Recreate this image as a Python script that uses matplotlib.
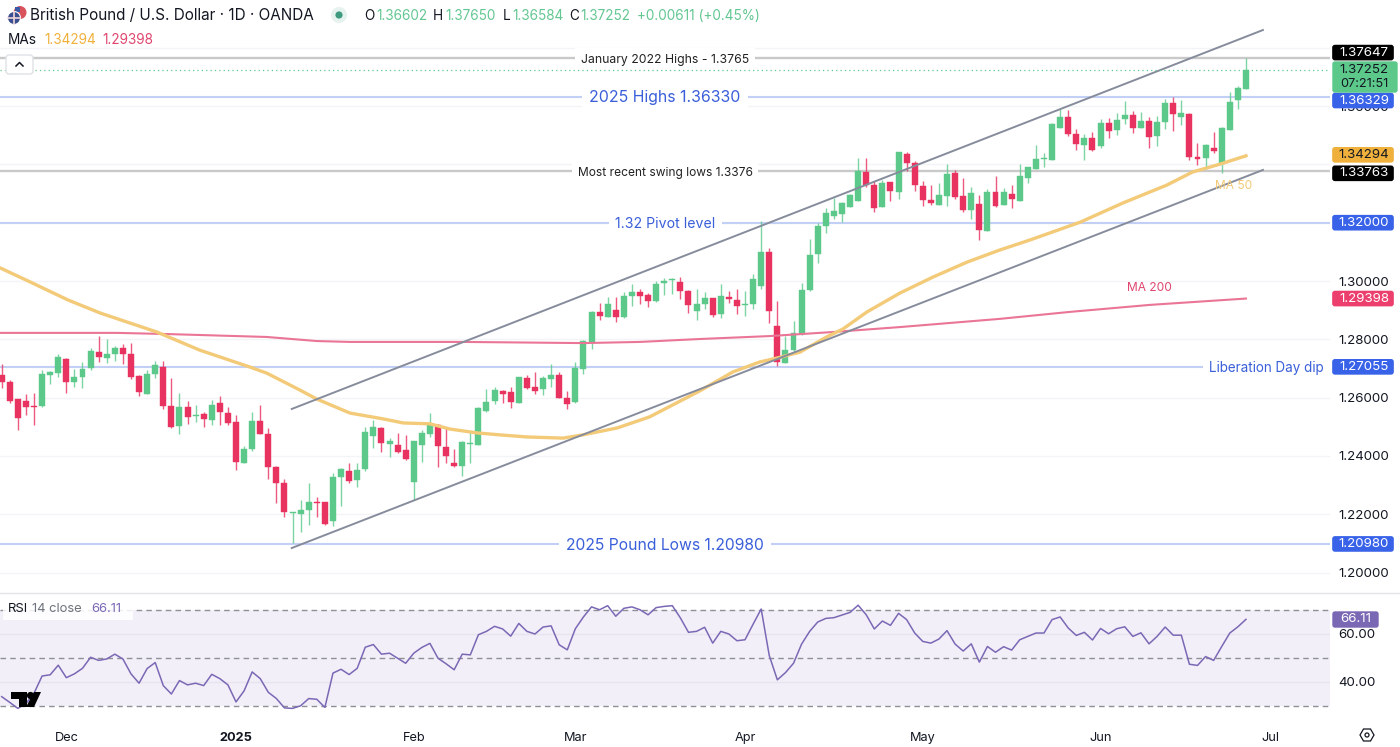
import matplotlib
matplotlib.use('Agg')
import matplotlib.pyplot as plt
from matplotlib.patches import Circle, FancyBboxPatch, Polygon, Rectangle

plt.rcParams['font.family'] = ['Inter', 'DejaVu Sans']

# daily candles
opens = [1.2678, 1.2655, 1.2594, 1.2590, 1.2571, 1.2570, 1.2677, 1.2685, 1.2731, 1.2652, 1.2671, 1.2702, 1.2758, 1.2735, 1.2750, 1.2769,
         1.2751, 1.2675, 1.2614, 1.2681, 1.2706, 1.2572, 1.2503, 1.2567, 1.2538, 1.2544, 1.2524, 1.2580, 1.2547, 1.2515, 1.2376, 1.2424,
         1.2520, 1.2475, 1.2362, 1.2307, 1.2205, 1.2200, 1.2213, 1.2242, 1.2242, 1.2177, 1.2327, 1.2347, 1.2319, 1.2355, 1.2469, 1.2494,
         1.2441, 1.2437, 1.2419, 1.2311, 1.2437, 1.2475, 1.2507, 1.2432, 1.2374, 1.2366, 1.2442, 1.2439, 1.2555, 1.2588, 1.2624, 1.2618,
         1.2581, 1.2668, 1.2636, 1.2629, 1.2664, 1.2677, 1.2600, 1.2584, 1.2699, 1.2791, 1.2892, 1.2876, 1.2900, 1.2876, 1.2948, 1.2962,
         1.2952, 1.2931, 1.2992, 1.3003, 1.2997, 1.2966, 1.2897, 1.2921, 1.2940, 1.2887, 1.2946, 1.2935, 1.2916, 1.2921, 1.2984, 1.3099,
         1.2844, 1.2720, 1.2763, 1.2818, 1.2970, 1.3092, 1.3187, 1.3224, 1.3230, 1.3255, 1.3275, 1.3374, 1.3329, 1.3254, 1.3339, 1.3305,
         1.3436, 1.3404, 1.3327, 1.3278, 1.3262, 1.3291, 1.3370, 1.3293, 1.3243, 1.3265, 1.3171, 1.3306, 1.3262, 1.3299, 1.3275, 1.3353,
         1.3384, 1.3417, 1.3414, 1.3525, 1.3564, 1.3506, 1.3467, 1.3489, 1.3463, 1.3542, 1.3517, 1.3556, 1.3570, 1.3526, 1.3549, 1.3498,
         1.3544, 1.3609, 1.3564, 1.3573, 1.3426, 1.3422, 1.3457, 1.3400, 1.3518, 1.3621, 1.36602]
highs = [1.2715, 1.2660, 1.2594, 1.2612, 1.2615, 1.2695, 1.2691, 1.2750, 1.2735, 1.2698, 1.2721, 1.2769, 1.2811, 1.2800, 1.2777, 1.2783,
         1.2786, 1.2678, 1.2695, 1.2727, 1.2726, 1.2666, 1.2615, 1.2588, 1.2574, 1.2552, 1.2592, 1.2607, 1.2569, 1.2539, 1.2434, 1.2550,
         1.2574, 1.2494, 1.2365, 1.2321, 1.2209, 1.2248, 1.2306, 1.2259, 1.2243, 1.2343, 1.2360, 1.2375, 1.2374, 1.2500, 1.2523, 1.2498,
         1.2462, 1.2477, 1.2472, 1.2452, 1.2489, 1.2548, 1.2508, 1.2494, 1.2422, 1.2452, 1.2483, 1.2568, 1.2628, 1.2635, 1.2626, 1.2638,
         1.2669, 1.2679, 1.2689, 1.2675, 1.2715, 1.2689, 1.2621, 1.2723, 1.2797, 1.2898, 1.2923, 1.2944, 1.2946, 1.2963, 1.2989, 1.2972,
         1.2960, 1.3001, 1.3009, 1.3009, 1.3015, 1.2969, 1.2972, 1.2963, 1.2943, 1.2990, 1.2967, 1.2971, 1.2966, 1.3023, 1.3207, 1.3112,
         1.2932, 1.2812, 1.2864, 1.2994, 1.3143, 1.3200, 1.3249, 1.3286, 1.3272, 1.3298, 1.3421, 1.3423, 1.3343, 1.3346, 1.3341, 1.3441,
         1.3442, 1.3412, 1.3344, 1.3329, 1.3335, 1.3401, 1.3381, 1.3354, 1.3321, 1.3295, 1.3314, 1.3360, 1.3318, 1.3331, 1.3401, 1.3392,
         1.3466, 1.3438, 1.3541, 1.3590, 1.3586, 1.3520, 1.3504, 1.3510, 1.3556, 1.3558, 1.3578, 1.3616, 1.3583, 1.3580, 1.3564, 1.3566,
         1.3623, 1.3632, 1.3621, 1.3578, 1.3475, 1.3469, 1.3511, 1.3529, 1.3647, 1.3670, 1.37650]
lows = [1.2632, 1.2580, 1.2489, 1.2540, 1.2507, 1.2568, 1.2647, 1.2672, 1.2617, 1.2635, 1.2632, 1.2695, 1.2721, 1.2718, 1.2726, 1.2714,
        1.2665, 1.2607, 1.2612, 1.2666, 1.2562, 1.2496, 1.2475, 1.2510, 1.2518, 1.2500, 1.2506, 1.2507, 1.2507, 1.2353, 1.2375, 1.2418,
        1.2475, 1.2321, 1.2238, 1.2192, 1.2100, 1.2139, 1.2163, 1.2192, 1.2163, 1.2161, 1.2229, 1.2308, 1.2294, 1.2349, 1.2428, 1.2414,
        1.2395, 1.2409, 1.2386, 1.2248, 1.2380, 1.2466, 1.2361, 1.2377, 1.2363, 1.2332, 1.2377, 1.2439, 1.2550, 1.2578, 1.2582, 1.2564,
        1.2580, 1.2628, 1.2612, 1.2608, 1.2637, 1.2597, 1.2561, 1.2582, 1.2680, 1.2768, 1.2866, 1.2876, 1.2861, 1.2874, 1.2914, 1.2921,
        1.2912, 1.2929, 1.2952, 1.2955, 1.2937, 1.2889, 1.2866, 1.2903, 1.2875, 1.2872, 1.2923, 1.2887, 1.2880, 1.2905, 1.2972, 1.2855,
        1.2708, 1.2717, 1.2754, 1.2815, 1.2967, 1.3063, 1.3166, 1.3211, 1.3201, 1.3254, 1.3275, 1.3323, 1.3235, 1.3254, 1.3274, 1.3281,
        1.3378, 1.3309, 1.3259, 1.3262, 1.3261, 1.3259, 1.3280, 1.3236, 1.3211, 1.3140, 1.3170, 1.3253, 1.3260, 1.3251, 1.3275, 1.3335,
        1.3383, 1.3392, 1.3414, 1.3524, 1.3498, 1.3449, 1.3415, 1.3447, 1.3455, 1.3490, 1.3502, 1.3540, 1.3509, 1.3525, 1.3457, 1.3463,
        1.3522, 1.3515, 1.3535, 1.3415, 1.3398, 1.3384, 1.3440, 1.3371, 1.3517, 1.3591, 1.36584]
closes = [1.2654, 1.2588, 1.2530, 1.2568, 1.2569, 1.2680, 1.2687, 1.2738, 1.2654, 1.2672, 1.2699, 1.2760, 1.2739, 1.2751, 1.2771, 1.2751,
          1.2670, 1.2619, 1.2682, 1.2712, 1.2571, 1.2499, 1.2568, 1.2535, 1.2542, 1.2527, 1.2576, 1.2551, 1.2512, 1.2380, 1.2423, 1.2520,
          1.2476, 1.2363, 1.2306, 1.2208, 1.2208, 1.2214, 1.2243, 1.2240, 1.2166, 1.2328, 1.2355, 1.2315, 1.2351, 1.2482, 1.2499, 1.2443,
          1.2450, 1.2415, 1.2389, 1.2450, 1.2480, 1.2506, 1.2434, 1.2400, 1.2365, 1.2448, 1.2444, 1.2565, 1.2584, 1.2626, 1.2611, 1.2585,
          1.2669, 1.2634, 1.2624, 1.2667, 1.2676, 1.2600, 1.2577, 1.2703, 1.2794, 1.2895, 1.2880, 1.2920, 1.2875, 1.2948, 1.2963, 1.2950,
          1.2933, 1.2991, 1.3001, 1.3007, 1.2966, 1.2918, 1.2921, 1.2943, 1.2885, 1.2947, 1.2937, 1.2915, 1.2921, 1.3006, 1.3099, 1.2897,
          1.2723, 1.2764, 1.2823, 1.2969, 1.3088, 1.3188, 1.3232, 1.3240, 1.3266, 1.3295, 1.3377, 1.3329, 1.3251, 1.3335, 1.3310, 1.3441,
          1.3406, 1.3329, 1.3277, 1.3269, 1.3296, 1.3367, 1.3288, 1.3243, 1.3301, 1.3176, 1.3304, 1.3259, 1.3304, 1.3281, 1.3360, 1.3392,
          1.3418, 1.3422, 1.3538, 1.3561, 1.3506, 1.3469, 1.3490, 1.3451, 1.3543, 1.3514, 1.3552, 1.3569, 1.3524, 1.3550, 1.3495, 1.3544,
          1.3610, 1.3574, 1.3575, 1.3426, 1.3418, 1.3467, 1.3447, 1.3524, 1.3613, 1.3662, 1.37252]

rsi_values = [33.9, 31.5, 29.0, 31.0, 35.3, 42.5, 43.0, 47.0, 41.8, 43.4, 45.7, 50.3, 49.0, 49.6, 51.6, 49.6, 43.4, 39.5, 45.6, 48.1,
              38.5, 35.0, 40.6, 38.8, 39.5, 38.5, 43.2, 41.4, 38.8, 31.7, 36.3, 44.2, 41.4, 35.7, 33.1, 29.2, 29.0, 30.1, 33.1, 32.8,
              29.4, 43.7, 45.3, 43.1, 45.7, 54.5, 55.6, 51.6, 52.0, 49.9, 47.8, 52.0, 54.4, 56.1, 49.9, 47.6, 45.1, 51.6, 51.3, 59.7,
              61.1, 63.2, 62.1, 59.1, 64.4, 61.1, 60.0, 62.9, 63.4, 55.5, 53.4, 62.2, 67.1, 71.3, 70.1, 71.8, 67.4, 70.7, 71.3, 70.1,
              68.0, 71.0, 71.5, 71.8, 66.7, 60.7, 61.1, 62.8, 56.2, 61.1, 60.0, 57.2, 57.6, 64.1, 70.4, 51.0, 40.9, 43.9, 47.8, 55.8,
              61.1, 65.0, 66.5, 66.8, 67.9, 69.0, 72.0, 68.0, 62.1, 65.4, 63.6, 68.6, 66.0, 60.4, 56.9, 56.2, 57.9, 61.4, 55.8, 52.9,
              55.9, 48.3, 54.8, 52.4, 54.7, 53.3, 57.6, 59.0, 60.4, 60.4, 66.0, 67.1, 62.5, 59.4, 60.7, 57.5, 62.3, 60.1, 62.2, 63.0,
              59.0, 60.5, 55.9, 59.0, 62.9, 59.5, 59.5, 47.4, 46.9, 50.6, 49.0, 54.8, 60.4, 63.0, 66.11]

ma50_days = [-0.2, 3.5, 8.2, 12.2, 19.2, 24.5, 30.7, 32.8, 36.9, 39, 43.1, 47.2, 49.7, 53, 55.5, 58.8, 61.7, 65, 69.5, 71.9, 76.2,
             80.2, 86.4, 90.5, 93.8, 96, 98.8, 102.1, 104.1, 107.1, 111.2, 115.3, 119.5, 123.5, 127.3, 133.5, 138.8, 144.2, 147.4, 150.8, 154]
ma50_values = [1.3045, 1.2997, 1.2935, 1.2890, 1.2825, 1.2763, 1.2705, 1.2684, 1.2626, 1.2595, 1.2547, 1.2527, 1.2513, 1.2510, 1.2492,
               1.2479, 1.2472, 1.2465, 1.2461, 1.2472, 1.2496, 1.2534, 1.2623, 1.2688, 1.2722, 1.2736, 1.2756, 1.2808, 1.2835, 1.2894,
               1.2959, 1.3014, 1.3065, 1.3106, 1.3141, 1.3202, 1.3268, 1.3329, 1.3374, 1.3401, 1.34294]
ma200_days = [-0.2, 14.3, 20.5, 32.8, 39, 43.1, 57.1, 72, 79, 86.4, 95, 102.9, 111.2, 123.5, 132.2, 142.1, 154]
ma200_values = [1.2822, 1.2822, 1.2818, 1.2808, 1.2794, 1.2791, 1.2791, 1.2787, 1.2791, 1.2801, 1.2811, 1.2825, 1.2842, 1.2870, 1.2894,
                1.2918, 1.29398]

channel_days = [35.9, 156.1]
channel_upper = [1.2561, 1.3861]
channel_lower = [1.2084, 1.3381]

grid_prices = [1.20, 1.22, 1.24, 1.26, 1.28, 1.30, 1.32, 1.34, 1.36, 1.38]
label_prices = [1.20, 1.22, 1.24, 1.26, 1.28, 1.30, 1.36]
month_days = [8, 29, 51, 71, 92, 114, 136, 157]
month_names = ['Dec', '2025', 'Feb', 'Mar', 'Apr', 'May', 'Jun', 'Jul']

GREEN = '#5cc98b'
RED = '#e8325f'
YELLOW = '#f3ca78'
PINK = '#ea7596'
LEVEL_BLUE = '#c3d0f6'
LEVEL_GREY = '#c9c9c9'
TEXT_BLUE = '#3a5fd9'
GRID = '#f3f4f8'
PURPLE = '#7b68b5'

W, H = 1400, 747
PANE_R = 1330


def pane(top, bottom):
    return [0, (H - bottom) / H, PANE_R / W, (bottom - top) / H]


fig = plt.figure(figsize=(14, 7.47), dpi=100)
ax = fig.add_axes(pane(0, 592))
ax_rsi = fig.add_axes(pane(593, 722))
ui = fig.add_axes([0, 0, 1, 1], zorder=10)
ui.set_xlim(0, W)
ui.set_ylim(H, 0)
ui.axis('off')
ui.patch.set_alpha(0)

days = list(range(len(closes)))
day_left, day_right = -0.21, 164.4
ax.set_xlim(day_left, day_right)
ax.set_ylim(1.30 - 311 / 2915, 1.30 + 281 / 2915)
for spine in ax.spines.values():
    spine.set_visible(False)
ax.set_xticks([])
ax.yaxis.tick_right()
ax.set_yticks(label_prices, [f'{p:.5f}' for p in label_prices])
ax.tick_params(axis='y', length=0, pad=6, labelsize=9.6, labelcolor='#131722')
for p in grid_prices:
    ax.axhline(p, color=GRID, lw=1, zorder=0)

# levels
ax.axhline(1.36329, color=LEVEL_BLUE, lw=1.5, zorder=1)
ax.axhline(1.32, color=LEVEL_BLUE, lw=1.5, zorder=1)
ax.axhline(1.27055, color=LEVEL_BLUE, lw=1.5, zorder=1)
ax.axhline(1.2098, color=LEVEL_BLUE, lw=1.5, zorder=1)
ax.axhline(1.37647, color=LEVEL_GREY, lw=1.7, zorder=1)
ax.axhline(1.33763, color=LEVEL_GREY, lw=1.7, zorder=1)
# last price line runs over the label boxes
ax.axhline(1.37252, color=GREEN, lw=0.9, ls=(0, (1, 2.5)), zorder=7)

# candles
colors = [GREEN if c >= o else RED for o, c in zip(opens, closes)]
ax.vlines(days, lows, highs, colors=colors, lw=1.0, alpha=0.8, zorder=3)
ax.bar(days, [abs(c - o) for o, c in zip(opens, closes)], bottom=[min(o, c) for o, c in zip(opens, closes)],
       width=0.74, color=colors, edgecolor=colors, lw=0.3, zorder=3)

ax.plot(ma200_days, ma200_values, color=PINK, lw=1.5, zorder=4)
ax.plot(ma50_days, ma50_values, color=YELLOW, lw=2.4, zorder=4)
ax.plot(channel_days, channel_upper, color='#868c9b', lw=1.4, zorder=5)
ax.plot(channel_days, channel_lower, color='#868c9b', lw=1.4, zorder=5)

# text sitting on the level lines, nudged down a touch to sit centred on them
nudge = 0.0005
white = dict(boxstyle='square,pad=0.45', fc='white', ec='none')
ax.text(82.1, 1.37647 - nudge, 'January 2022 Highs - 1.3765', fontsize=8.8, color='#222222', ha='center', va='center', bbox=white, zorder=6)
ax.text(82.1, 1.36329 - nudge, '2025 Highs 1.36330', fontsize=11.4, color=TEXT_BLUE, ha='center', va='center', bbox=white, zorder=6)
ax.text(82.1, 1.33763 - nudge, 'Most recent swing lows 1.3376', fontsize=8.6, color='#222222', ha='center', va='center', bbox=white, zorder=6)
ax.text(82.1, 1.32 - nudge, '1.32 Pivot level', fontsize=10.2, color=TEXT_BLUE, ha='center', va='center', bbox=white, zorder=6)
ax.text(82.1, 1.2098 - nudge, '2025 Pound Lows 1.20980', fontsize=11.3, color=TEXT_BLUE, ha='center', va='center', bbox=white, zorder=6)
ax.text(163.6, 1.27055 - nudge, 'Liberation Day dip', fontsize=9.7, color=TEXT_BLUE, ha='right', va='center', bbox=white, zorder=6)
ax.text(152.5, 1.3345, 'MA 50', fontsize=8.6, color=YELLOW, ha='center', va='top', zorder=6)
ax.text(142, 1.2975, 'MA 200', fontsize=8.6, color='#e0466f', ha='center', va='center', zorder=6)

# RSI pane
ax_rsi.set_xlim(day_left, day_right)
ax_rsi.set_ylim(30 - 16 / 2.4, 30 + 113 / 2.4)
for spine in ax_rsi.spines.values():
    spine.set_visible(False)
ax_rsi.axhspan(30, 70, color='#f2eff9', lw=0, zorder=0)
ax_rsi.axhline(60, color='#e6e4ee', lw=1, zorder=1)
ax_rsi.axhline(40, color='#e6e4ee', lw=1, zorder=1)
for level in [70, 50, 30]:
    ax_rsi.axhline(level, color='#8f8f96', lw=1, ls=(0, (4, 3)), zorder=1)
ax_rsi.plot(days, rsi_values, color=PURPLE, lw=1.1, zorder=3)
ax_rsi.yaxis.tick_right()
ax_rsi.set_yticks([60, 40], ['60.00', '40.00'])
ax_rsi.tick_params(axis='y', length=0, pad=6, labelsize=9.6, labelcolor='#131722')
ax_rsi.set_xticks(month_days, month_names)
ax_rsi.tick_params(axis='x', length=0, pad=7, labelsize=9.2, labelcolor='#131722')
ax_rsi.get_xticklabels()[1].set_fontweight('bold')

# chrome drawn on the whole figure in pixel terms
ui.plot([0, W], [592.5, 592.5], color='#e3e4e8', lw=1)


def price_box(price, label, bg, fg, shift=0, height=16, right=1394):
    y = H - ax.transData.transform((0, price))[1] + shift
    ui.add_patch(FancyBboxPatch((1333, y - height / 2 + 1), right - 1334, height - 2, boxstyle='round,pad=0,rounding_size=2',
                                fc=bg, ec=bg, lw=1.2, zorder=2))
    ui.text(1364, y, label, fontsize=9.6, color=fg, ha='center', va='center', zorder=3)


price_box(1.37647, '1.37647', '#000000', 'white', shift=-5.5)
price_box(1.36329, '1.36329', '#3862e8', 'white', shift=4)
price_box(1.34294, '1.34294', '#f0b13c', '#131722', shift=-1)
price_box(1.33763, '1.33763', '#000000', 'white', shift=2)
price_box(1.32, '1.32000', '#3862e8', 'white')
price_box(1.29398, '1.29398', '#ec3f6d', 'white')
price_box(1.27055, '1.27055', '#3862e8', 'white')
price_box(1.2098, '1.20980', '#3862e8', 'white')

ui.add_patch(FancyBboxPatch((1333, 62), 64, 30, boxstyle='round,pad=0,rounding_size=2', fc=GREEN, ec=GREEN, lw=1, zorder=4))
ui.text(1364, 70, '1.37252', fontsize=9.6, color='#131722', ha='center', va='center', zorder=5)
ui.text(1364, 84, '07:21:51', fontsize=9.2, color='#131722', ha='center', va='center', zorder=5)

ui.add_patch(FancyBboxPatch((1333, 612), 45, 15, boxstyle='round,pad=0,rounding_size=2', fc=PURPLE, ec=PURPLE, lw=1, zorder=2))
ui.text(1356, 619.5, '66.11', fontsize=9.6, color='white', ha='center', va='center', zorder=3)

# header
ui.add_patch(Circle((20, 12.5), 6.5, fc='#d9535c', ec='none'))
ui.add_patch(Rectangle((14.5, 7), 5, 5, fc='#3a5aa8', ec='none'))
ui.add_patch(Circle((14, 18), 6.5, fc='#3a4f8f', ec='white', lw=0.8))
ui.plot([8, 20], [18, 18], color='#f2d6da', lw=1.2)
ui.plot([14, 14], [12, 24], color='#f2d6da', lw=1.2)
ui.text(30, 15.5, 'British Pound / U.S. Dollar · 1D · OANDA', fontsize=11.0, color='#131722', ha='left', va='center')
ui.add_patch(Circle((339, 15), 8, fc='#e6f2ee', ec='none'))
ui.add_patch(Circle((339, 15), 3.6, fc='#3e9a7e', ec='none'))
header_green = '#63c792'
for letter, lx, value, vx in [('O', 364, '1.36602', 376), ('H', 433, '1.37650', 445), ('L', 503, '1.36584', 512), ('C', 569, '1.37252', 580)]:
    ui.text(lx, 15.5, letter, fontsize=9.8, color='#131722', ha='left', va='center')
    ui.text(vx, 15.5, value, fontsize=9.8, color=header_green, ha='left', va='center')
ui.text(637, 15.5, '+0.00611 (+0.45%)', fontsize=9.8, color=header_green, ha='left', va='center')

ui.text(8, 39.5, 'MAs', fontsize=9.8, color='#131722', ha='left', va='center')
ui.text(44, 39.5, '1.34294', fontsize=9.8, color='#f0b13c', ha='left', va='center')
ui.text(102, 39.5, '1.29398', fontsize=9.8, color='#e0466f', ha='left', va='center')

ui.add_patch(FancyBboxPatch((6, 55), 27, 19, boxstyle='round,pad=0,rounding_size=3', fc='white', ec='#dfe1e6', lw=1))
ui.plot([16, 19.5, 23], [66, 62.5, 66], color='#131722', lw=1.1)

# RSI legend
ui.add_patch(Rectangle((3, 600), 130, 20, fc='white', ec='none', alpha=0.85))
ui.text(8, 609.5, 'RSI', fontsize=9.4, color='#131722', ha='left', va='center')
ui.text(32, 609.5, '14 close', fontsize=9.4, color='#6f737d', ha='left', va='center')
ui.text(91, 609.5, '66.11', fontsize=9.4, color=PURPLE, ha='left', va='center')

# logo and settings icon
ui.add_patch(Polygon([(11, 692), (27, 692), (27, 707), (19, 707), (19, 699), (11, 699)], fc='black', ec='none'))
ui.add_patch(Circle((30.5, 695.5), 3.6, fc='black', ec='none'))
ui.add_patch(Polygon([(34, 692), (41, 692), (34, 707), (26, 707)], fc='black', ec='none'))
ui.add_patch(Polygon([(1360, 735), (1363.5, 729), (1370.5, 729), (1374, 735), (1370.5, 741), (1363.5, 741)], fc='none', ec='#131722', lw=0.9))
ui.add_patch(Circle((1367, 735), 2, fc='none', ec='#131722', lw=0.9))

fig.savefig('out.png', dpi=100)
